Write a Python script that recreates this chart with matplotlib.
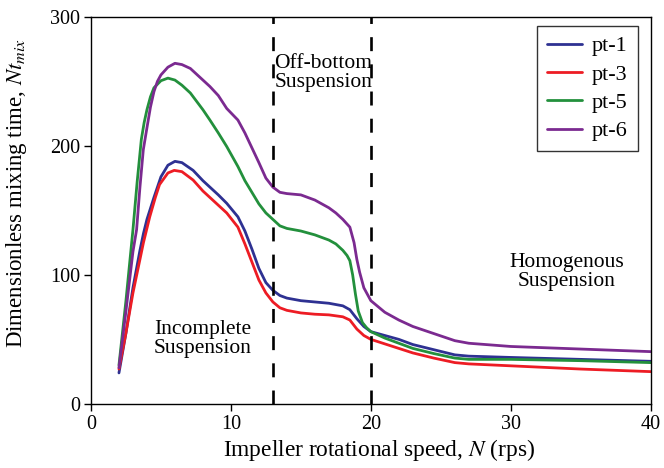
import numpy as np
import matplotlib
matplotlib.use("Agg")
import matplotlib.pyplot as plt

plt.rcParams['font.family'] = ['Liberation Serif', 'DejaVu Serif']
plt.rcParams['mathtext.fontset'] = 'stix'

# speed N (rps) and dimensionless mixing time for each probe
n_pt1 = [2, 2.5, 3, 3.5, 3.75, 4, 4.5, 5, 5.5, 6, 6.5, 7.3, 8, 8.5, 9.1, 9.7, 10.5, 11, 11.5,
         12, 12.5, 13, 13.5, 14, 15, 16, 17, 18, 18.5, 19, 19.5, 20, 21, 22, 23, 24.5, 26, 27,
         30, 35, 40]
t_pt1 = [24, 55, 90, 119, 132, 143, 160, 176, 185, 188, 187, 181, 173, 168, 162, 155.5, 145,
         134, 120, 105, 94, 88, 84, 82, 80, 79, 78, 76, 73, 66, 60, 56, 53, 50, 46, 42, 38, 37,
         36, 34.5, 33]
n_pt3 = [2, 2.5, 3, 3.5, 3.75, 4.2, 4.6, 4.9, 5.5, 5.95, 6.5, 7.3, 8, 8.5, 9.1, 9.7, 10.5, 11,
         11.5, 12, 12.5, 13, 13.5, 14, 15, 16, 17, 18, 18.5, 19, 19.5, 20, 21, 22, 23, 24.5, 26,
         27, 30, 35, 40]
t_pt3 = [27, 55, 86, 112, 125, 145, 160, 170, 179, 181, 180, 173.5, 165, 160, 154, 148, 137,
         124, 110, 96, 86, 79, 74.5, 72.5, 70.5, 69.5, 69, 67.5, 65, 58, 53, 50, 46.5, 43, 39.5,
         35.5, 32, 31, 29.5, 27, 25]
n_pt5 = [2, 2.5, 3, 3.3, 3.6, 3.8, 4, 4.25, 4.5, 5, 5.5, 6, 6.5, 7.1, 8, 8.5, 9.1, 9.7, 10.5,
         11, 12, 12.5, 13, 13.5, 14, 15, 16, 17, 17.5, 18, 18.3, 18.5, 18.7, 18.9, 19.1, 19.4,
         19.7, 20, 21, 22, 23, 24.5, 26, 27, 30, 35, 40]
t_pt5 = [30, 80, 135, 172, 205, 218, 228, 238, 245, 250.5, 252.5, 251, 247, 241, 228, 220, 210,
         199.5, 184, 173, 155, 148, 143, 138, 136, 134, 131, 127, 124, 119, 115, 111, 100, 85,
         72, 63, 59, 56, 51, 47, 43, 39, 35.5, 34.5, 34.5, 33.5, 32]
n_pt6 = [2, 2.5, 3, 3.26, 3.5, 3.74, 4, 4.25, 4.5, 4.75, 5, 5.5, 6, 6.5, 7.1, 8, 8.5, 9.1, 9.7,
         10.5, 11, 12, 12.5, 13, 13.5, 14, 15, 16, 17, 17.5, 18, 18.5, 18.8, 19.0, 19.2, 19.5,
         20, 21, 22, 23, 24.5, 26, 27, 30, 35, 40]
t_pt6 = [28, 72, 118, 135, 168, 197, 214, 230, 242, 250, 255, 261, 264, 263, 260, 251, 246, 239,
         229, 220, 210, 187, 175, 168, 164, 163, 162, 158, 152, 148, 143, 137, 125, 112, 102,
         90, 80, 71, 65, 60, 54.5, 49, 47, 44.5, 42.5, 40.5]

labels = ['pt-1', 'pt-3', 'pt-5', 'pt-6']
colors = ['#2e3192', '#ed1c24', '#23903c', '#7b2a90']
regime_edges = [13, 20]

fig = plt.figure(figsize=(6.64, 4.68), dpi=100)
ax = fig.add_axes([0.137, 0.137, 0.843, 0.827])

series = [(n_pt1, t_pt1), (n_pt3, t_pt3), (n_pt5, t_pt5), (n_pt6, t_pt6)]
for (xs, ys), lab, col in zip(series, labels, colors):
    ax.plot(xs, ys, color=col, lw=2.0, label=lab, solid_joinstyle='round', solid_capstyle='round')

for xv in regime_edges:
    ax.axvline(xv, color='black', lw=1.9, ls=(0, (5.3, 5.0)))

txt = dict(ha='center', va='center', fontsize=15.5, linespacing=1.0)
ax.text(16.6, 256.5, 'Off-bottom\nSuspension', **txt)
ax.text(7.96, 50.3, 'Incomplete\nSuspension', **txt)
ax.text(34.0, 102.6, 'Homogenous\nSuspension', **txt)

ax.set_xlim(0, 40)
ax.set_ylim(0, 300)
ax.set_xticks([0, 10, 20, 30, 40])
ax.set_yticks([0, 100, 200, 300])
ax.tick_params(direction='out', length=5, labelsize=14.5, width=1, pad=3)
for sp in ax.spines.values():
    sp.set_linewidth(1.0)

ax.set_xlabel('Impeller rotational speed, $\\mathit{N}$ (rps)', fontsize=16.8)
ax.set_ylabel('Dimensionless mixing time, $\\mathit{Nt}_{\\mathit{mix}}$', fontsize=16.5)
ax.xaxis.set_label_coords(0.514, -0.085)
ax.yaxis.set_label_coords(-0.11, 0.545)

leg = ax.legend(loc='upper right', fontsize=16, frameon=True, fancybox=False,
                edgecolor='black', handlelength=1.6, handletextpad=0.45, borderpad=0.45,
                labelspacing=0.35, borderaxespad=0, bbox_to_anchor=(0.977, 0.977))
leg.get_frame().set_linewidth(1.0)

fig.savefig('out.png', dpi=100)
